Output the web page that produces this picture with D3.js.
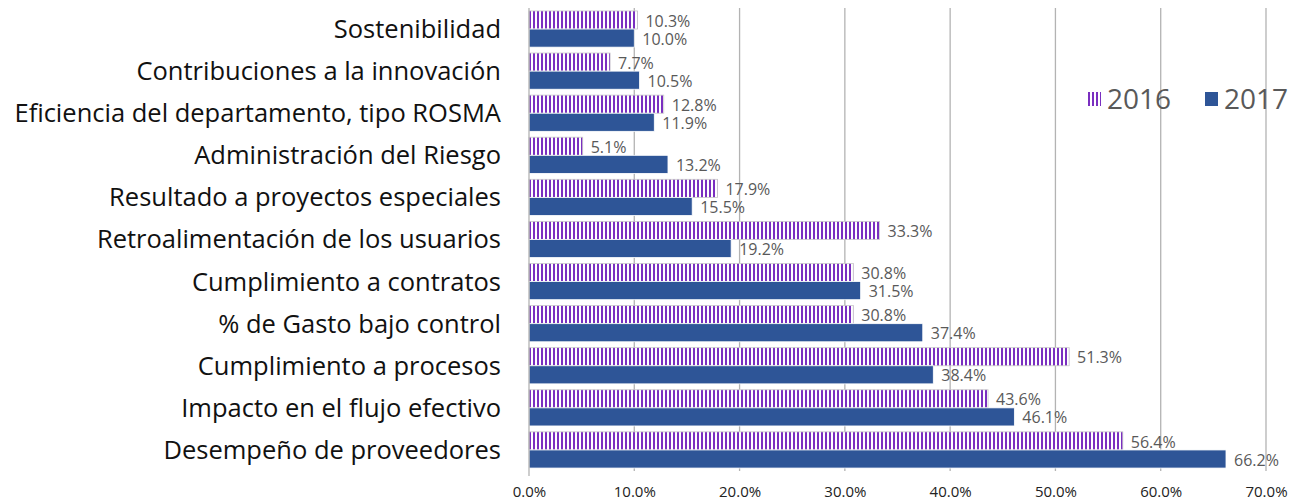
<!DOCTYPE html>
<html>
<head>
<meta charset="utf-8">
<script src="https://cdn.jsdelivr.net/npm/d3@7"></script>
<style>
  body { margin: 0; background: #fff; }
  svg { display: block; }
</style>
</head>
<body>
<svg id="chart" width="1293" height="503"></svg>
<script>
"use strict";

var categories = [
  "Sostenibilidad",
  "Contribuciones a la innovación",
  "Eficiencia del departamento, tipo ROSMA",
  "Administración del Riesgo",
  "Resultado a proyectos especiales",
  "Retroalimentación de los usuarios",
  "Cumplimiento a contratos",
  "% de Gasto bajo control",
  "Cumplimiento a procesos",
  "Impacto en el flujo efectivo",
  "Desempeño de proveedores"
];
var seriesNames = ["2016", "2017"];
var values2016 = [10.3, 7.7, 12.8, 5.1, 17.9, 33.3, 30.8, 30.8, 51.3, 43.6, 56.4];
var values2017 = [10.0, 10.5, 11.9, 13.2, 15.5, 19.2, 31.5, 37.4, 38.4, 46.1, 66.2];
var xTicks = [0, 10, 20, 30, 40, 50, 60, 70];

var BLUE = "#2E5597";
var PURPLE = "#7A2FC0";

var svg = d3.select("#chart");
var margin = { left: 529, right: 27, top: 8, bottom: 32 };
var width = 1293 - margin.left - margin.right;
var height = 503 - margin.top - margin.bottom;

// vertical stripes for the 2016 series
var defs = svg.append("defs");
var pat = defs.append("pattern")
  .attr("id", "stripes")
  .attr("patternUnits", "userSpaceOnUse")
  .attr("width", 4)
  .attr("height", 4);
pat.append("rect").attr("width", 4).attr("height", 4).attr("fill", "#fff");
pat.append("rect").attr("width", 2).attr("height", 4).attr("fill", PURPLE);

var x = d3.scaleLinear().domain([0, 70]).range([0, width]);
var y = d3.scaleBand().domain(categories).range([0, height]).paddingInner(0.14).paddingOuter(0.07);
var ySub = d3.scaleBand().domain(seriesNames).range([0, y.bandwidth()]);

var g = svg.append("g").attr("transform", "translate(" + margin.left + "," + margin.top + ")");

// gridlines
g.append("g")
  .selectAll("line")
  .data(xTicks.slice(1))
  .enter()
  .append("line")
  .attr("x1", function (d) { return x(d); })
  .attr("x2", function (d) { return x(d); })
  .attr("y1", 0)
  .attr("y2", height)
  .attr("stroke", "#b3b3b3")
  .attr("stroke-width", 1.3);

// bottom tick labels
var xAxis = g.append("g")
  .attr("transform", "translate(0," + height + ")")
  .call(d3.axisBottom(x).tickValues(xTicks).tickSize(0).tickPadding(15)
    .tickFormat(function (d) { return d3.format(".1f")(d) + "%"; }));
xAxis.select(".domain").remove();
xAxis.selectAll("text")
  .attr("font-family", "Open Sans, sans-serif")
  .attr("font-size", 15)
  .attr("fill", "#222");

var rows = categories.map(function (c, i) {
  return { cat: c, vals: [values2016[i], values2017[i]] };
});

var groups = g.selectAll("g.row")
  .data(rows)
  .enter()
  .append("g")
  .attr("class", "row")
  .attr("transform", function (d) { return "translate(0," + y(d.cat) + ")"; });

groups.each(function (row) {
  var sel = d3.select(this);
  row.vals.forEach(function (v, k) {
    var s = seriesNames[k];
    sel.append("rect")
      .attr("x", 0)
      .attr("y", ySub(s))
      .attr("width", x(v))
      .attr("height", ySub.bandwidth())
      .attr("fill", k === 0 ? "url(#stripes)" : BLUE)
      .attr("stroke", k === 0 ? "#c9c9c9" : "#ffffff")
      .attr("stroke-width", 0.8);
    sel.append("text")
      .attr("x", x(v) + 8)
      .attr("y", ySub(s) + ySub.bandwidth() / 2 + 1)
      .attr("dy", "0.35em")
      .attr("font-family", "Open Sans, sans-serif")
      .attr("font-size", 16)
      .attr("fill", "#595959")
      .text(d3.format(".1f")(v) + "%");
  });
});

// vertical axis line
g.append("line")
  .attr("x1", 0).attr("x2", 0)
  .attr("y1", 0).attr("y2", height + 5)
  .attr("stroke", "#b3b3b3")
  .attr("stroke-width", 1.3);

// category labels
g.append("g")
  .selectAll("text")
  .data(categories)
  .enter()
  .append("text")
  .attr("x", -28)
  .attr("y", function (d) { return y(d) + y.bandwidth() / 2; })
  .attr("dy", "0.35em")
  .attr("text-anchor", "end")
  .attr("font-family", "Open Sans, sans-serif")
  .attr("font-size", 25.5)
  .attr("fill", "#111")
  .text(function (d) { return d; });

// legend
var legend = svg.append("g").attr("transform", "translate(1088,99)");
var legendX = [0, 117];
seriesNames.forEach(function (s, k) {
  var lg = legend.append("g").attr("transform", "translate(" + legendX[k] + ",0)");
  lg.append("rect")
    .attr("x", 0).attr("y", -7)
    .attr("width", 13).attr("height", 14)
    .attr("fill", k === 0 ? "url(#stripes)" : BLUE);
  lg.append("text")
    .attr("x", 19)
    .attr("y", 0)
    .attr("dy", "0.35em")
    .attr("font-family", "Open Sans, sans-serif")
    .attr("font-size", 28)
    .attr("fill", "#595959")
    .text(s);
});
</script>
</body>
</html>
